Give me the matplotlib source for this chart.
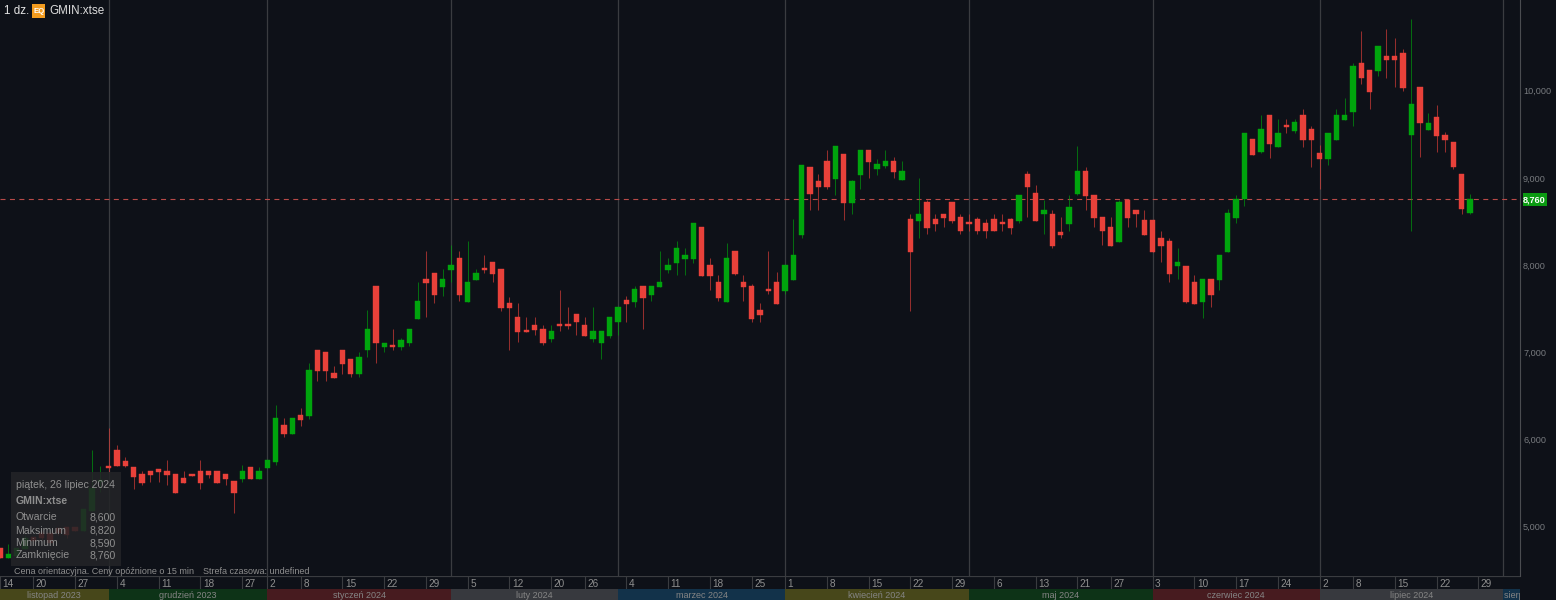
import matplotlib
matplotlib.use("Agg")
import matplotlib.pyplot as plt
import numpy as np

plt.rcParams['font.family'] = ['Liberation Sans', 'DejaVu Sans']

opens = [4750, 4640, 4660, 4740, 4880, 4930, 4930, 4980, 5000, 5000,
         4950, 5180, 5510, 5690, 5880, 5750, 5680, 5600, 5640, 5650,
         5640, 5600, 5560, 5600, 5640, 5640, 5640, 5600, 5520, 5540,
         5680, 5550, 5670, 5740, 6160, 6060, 6280, 6270, 7030, 7000,
         6760, 7030, 6920, 6750, 7030, 7760, 7060, 7080, 7060, 7100,
         7380, 7840, 7910, 7750, 7940, 8080, 7580, 7830, 7950, 8040,
         7950, 7560, 7400, 7240, 7310, 7270, 7150, 7310, 7320, 7440,
         7310, 7150, 7110, 7190, 7350, 7600, 7580, 7760, 7660, 7750,
         7940, 8020, 8070, 8070, 8440, 8000, 7800, 7580, 8160, 7800,
         7760, 7480, 7720, 7800, 7700, 7830, 8350, 9120, 8960, 9190,
         8990, 9270, 8710, 9030, 9320, 9100, 9140, 9190, 8980, 8530,
         8510, 8720, 8530, 8590, 8720, 8550, 8480, 8530, 8480, 8530,
         8480, 8530, 8510, 9040, 8830, 8580, 8590, 8360, 8470, 8820,
         9080, 8800, 8550, 8440, 8260, 8750, 8630, 8520, 8520, 8310,
         8280, 7990, 7990, 7800, 7580, 7840, 7830, 8150, 8540, 8760,
         9440, 9300, 9720, 9350, 9600, 9540, 9720, 9560, 9280, 9220,
         9430, 9660, 9750, 10320, 10240, 10230, 10400, 10400, 10430, 9490,
         10040, 9550, 9700, 9490, 9410, 9040, 8600]
highs = [4750, 4800, 4750, 4900, 4880, 4950, 4930, 4980, 5000, 5000,
         5200, 5880, 5690, 6130, 5930, 5800, 5680, 5640, 5640, 5650,
         5760, 5600, 5640, 5600, 5760, 5640, 5640, 5600, 5520, 5710,
         5680, 5680, 5760, 6400, 6240, 6240, 6360, 6880, 7030, 7000,
         6840, 7030, 6920, 7000, 7480, 7760, 7110, 7270, 7160, 7270,
         7800, 8160, 7910, 7950, 8230, 8160, 8270, 7950, 8120, 8040,
         7950, 7630, 7560, 7400, 7400, 7310, 7310, 7710, 7520, 7440,
         7400, 7520, 7240, 7400, 7520, 7650, 7760, 7760, 7760, 8160,
         8080, 8280, 8200, 8480, 8440, 8080, 7890, 8250, 8160, 7890,
         7780, 7570, 8160, 7920, 8000, 8530, 9150, 9120, 9040, 9320,
         9360, 9270, 8980, 9320, 9320, 9220, 9320, 9240, 9190, 8590,
         9000, 8750, 8590, 8590, 8720, 8590, 8590, 8550, 8530, 8590,
         8590, 8540, 8800, 9080, 8920, 8750, 8630, 8550, 8800, 9360,
         9120, 8800, 8550, 8550, 8750, 8750, 8630, 8630, 8520, 8390,
         8310, 8200, 7990, 7880, 7840, 7840, 8120, 8640, 8800, 9510,
         9440, 9720, 9720, 9680, 9680, 9680, 9790, 9600, 9380, 9510,
         9790, 9920, 10320, 10680, 10240, 10510, 10710, 10600, 10480, 10820,
         10040, 9740, 9840, 9530, 9410, 9040, 8820]
lows = [4640, 4640, 4660, 4740, 4800, 4850, 4800, 4900, 4870, 4950,
        4950, 5180, 5400, 5620, 5690, 5680, 5430, 5480, 5510, 5510,
        5480, 5380, 5500, 5580, 5430, 5560, 5500, 5480, 5150, 5510,
        5540, 5550, 5670, 5710, 6030, 6060, 6150, 6230, 6670, 6670,
        6700, 6750, 6720, 6720, 6950, 6880, 7000, 7030, 7030, 7070,
        7380, 7400, 7560, 7640, 7800, 7590, 7580, 7830, 7910, 7800,
        7470, 7030, 7120, 7230, 7200, 7080, 7120, 7240, 7270, 7200,
        7190, 7120, 6920, 7160, 7200, 7350, 7520, 7270, 7590, 7750,
        7910, 7880, 7890, 8020, 7870, 7710, 7590, 7580, 7880, 7590,
        7350, 7350, 7670, 7550, 7670, 7830, 8310, 8630, 8630, 8870,
        8800, 8520, 8590, 8870, 9000, 9030, 9110, 9000, 8980, 7470,
        8310, 8360, 8390, 8440, 8480, 8360, 8390, 8360, 8310, 8390,
        8390, 8360, 8480, 8550, 8510, 8360, 8200, 8310, 8390, 8800,
        8630, 8440, 8230, 8220, 8260, 8440, 8440, 8350, 8150, 8040,
        7800, 7840, 7560, 7550, 7390, 7520, 7710, 8150, 8480, 8680,
        9260, 9280, 9230, 9350, 9510, 9510, 9350, 9120, 8870, 9150,
        9430, 9660, 9600, 10080, 9790, 10170, 10150, 10040, 10000, 8390,
        9240, 9550, 9300, 9300, 9100, 8590, 8590]
closes = [4640, 4680, 4750, 4870, 4830, 4870, 4810, 4930, 4900, 4950,
          5200, 5440, 5530, 5670, 5700, 5700, 5570, 5500, 5590, 5630,
          5590, 5380, 5500, 5580, 5500, 5590, 5500, 5550, 5380, 5640,
          5540, 5640, 5760, 6240, 6060, 6240, 6220, 6800, 6790, 6790,
          6700, 6870, 6750, 6950, 7270, 7110, 7110, 7060, 7140, 7270,
          7590, 7790, 7660, 7840, 8000, 7660, 7800, 7910, 7940, 7900,
          7510, 7510, 7230, 7230, 7260, 7110, 7240, 7300, 7300, 7350,
          7190, 7240, 7240, 7400, 7520, 7550, 7720, 7620, 7760, 7800,
          8000, 8200, 8120, 8480, 7870, 7870, 7620, 8080, 7900, 7750,
          7380, 7430, 7700, 7550, 8000, 8120, 9150, 8820, 8900, 8900,
          9360, 8710, 8960, 9320, 9180, 9160, 9190, 9070, 9080, 8150,
          8590, 8430, 8470, 8540, 8510, 8390, 8470, 8390, 8390, 8390,
          8470, 8430, 8800, 8900, 8510, 8630, 8220, 8350, 8670, 9080,
          8790, 8540, 8390, 8220, 8720, 8540, 8590, 8350, 8150, 8220,
          7900, 8040, 7580, 7550, 7840, 7660, 8120, 8600, 8760, 9510,
          9260, 9560, 9390, 9510, 9580, 9640, 9430, 9430, 9220, 9510,
          9720, 9720, 10280, 10140, 9990, 10510, 10350, 10350, 10030, 9850,
          9630, 9630, 9480, 9430, 9120, 8640, 8760]

price_ticks = [5000, 6000, 7000, 8000, 9000, 10000]
last_price = 8760
y_top, y_bottom = 11040, 4433

day_labels = ['14', '20', '27', '4', '11', '18', '27', '2', '8', '15', '22', '29', '5', '12', '20', '26', '4', '11', '18', '25',
              '1', '8', '15', '22', '29', '6', '13', '21', '27', '3', '10', '17', '24', '2', '8', '15', '22', '29']
day_index = [0, 4, 9, 14, 19, 24, 29, 32, 36, 41, 46, 51, 56, 61, 66, 70, 75, 80, 85, 90,
             94, 99, 104, 109, 114, 119, 124, 129, 133, 138, 143, 148, 153, 158, 162, 167, 172, 177]

month_labels = ['listopad 2023', 'grudzień 2023', 'styczeń 2024', 'luty 2024', 'marzec 2024',
                'kwiecień 2024', 'maj 2024', 'czerwiec 2024', 'lipiec 2024', 'sierpień 2024']
month_start = [0, 13, 32, 54, 74, 94, 116, 138, 158, 180]
month_end = [13, 32, 54, 74, 94, 116, 138, 158, 180, 182]
month_colors = ['#47471a', '#0d3317', '#471b1f', '#37393e', '#12324a',
                '#47471a', '#0d3317', '#471b1f', '#37393e', '#12324a']

tooltip_names = ['Otwarcie', 'Maksimum', 'Minimum', 'Zamknięcie']
tooltip_values = ['8,600', '8,820', '8,590', '8,760']

W, H = 1556, 600
BG = '#0e1118'
RED = '#e8413a'
GREEN = '#00a40d'
TXT = '#8f8f8f'

opens = np.array(opens)
closes = np.array(closes)
idx = np.arange(len(opens))
up = closes >= opens

fig = plt.figure(figsize=(W / 100, H / 100), dpi=100, facecolor=BG)
xmax = 1520 / 8.352

ax = fig.add_axes([0, 24 / H, 1520 / W, 576 / H], facecolor=BG)
ax.set_xlim(0, xmax)
ax.set_ylim(y_bottom, y_top)
for s in ax.spines.values():
    s.set_visible(False)
ax.spines['right'].set_visible(True)
ax.spines['right'].set_color('#4a4c50')
ax.spines['right'].set_linewidth(0.8)
ax.set_xticks([])
ax.yaxis.tick_right()
ax.set_yticks(price_ticks)
ax.set_yticklabels([f'{p:,}' for p in price_ticks], color='#777a7e', fontsize=6.6)
ax.tick_params(axis='y', length=0, pad=2.2)

# month separators
for m in month_start[1:]:
    ax.axvline(m, color='#3a3c40', lw=0.9, zorder=1)

ax.axhline(last_price, color='#b84a48', lw=0.8, dashes=(4.5, 4), zorder=1.5)

# wicks then bodies
wick_c = [GREEN if u else RED for u in up]
ax.vlines(idx, lows, highs, colors=wick_c, lw=0.75, alpha=0.62, zorder=2)
body_c = wick_c
ax.bar(idx, np.maximum(np.abs(closes - opens), 25), bottom=np.minimum(opens, closes),
       width=0.64, color=body_c, edgecolor=body_c, lw=0.3, zorder=3)

# date row
ax_d = fig.add_axes([0, 11 / H, 1520 / W, 13 / H], facecolor='#0e1014')
ax_d.set_xlim(0, xmax)
ax_d.set_ylim(0, 1)
ax_d.axis('off')
ax_d.axhline(1, color='#3a3c40', lw=1.6)
ax_d.vlines(day_index, 0, 1, color='#3a3c40', lw=0.8)
for i, lab in zip(day_index, day_labels):
    ax_d.text(i + 0.3, 0.42, lab, color=TXT, fontsize=7.2, va='center', ha='left')

# month row
ax_m = fig.add_axes([0, 0, 1520 / W, 11 / H], facecolor=BG)
ax_m.set_xlim(0, xmax)
ax_m.set_ylim(0, 1)
ax_m.axis('off')
for a, b, c, lab in zip(month_start, month_end, month_colors, month_labels):
    ax_m.axvspan(a, b, color=c, lw=0)
    if a == month_start[-1]:
        ax_m.text(a + 0.1, 0.45, lab, color='#858585', fontsize=6.5, va='center', ha='left', clip_on=True)
    else:
        ax_m.text((a + b) / 2, 0.45, lab, color='#858585', fontsize=6.5, va='center', ha='center')


def px_text(x, y, s, **kw):
    kw.setdefault('va', 'center_baseline')
    kw.setdefault('color', TXT)
    return fig.text(x / W, 1 - (y - 1) / H, s, **kw)


def px_rect(x0, y0, x1, y1, **kw):
    r = plt.Rectangle((x0 / W, 1 - y1 / H), (x1 - x0) / W, (y1 - y0) / H, transform=fig.transFigure, **kw)
    fig.add_artist(r)
    return r


# header
px_text(4, 10.5, '1 dz.', color='#e4e4e4', fontsize=8.4)
px_rect(32, 4, 45.5, 18, facecolor='#f39c1f', edgecolor='none')
px_text(38.8, 11.5, 'EQ', color='white', fontsize=5.6, fontweight='bold', ha='center')
px_text(49.5, 10.5, 'GMIN:xtse', color='#dcdcdc', fontsize=8.4)

# tooltip
px_rect(11, 472, 121, 566, facecolor='#232427', edgecolor='none', alpha=0.87, zorder=5)
px_text(15.5, 485.5, 'piątek, 26 lipiec 2024', fontsize=7.6, zorder=6)
px_text(15.5, 501.5, 'GMIN:xtse', fontsize=7.6, fontweight='bold', zorder=6)
for k, (n, v) in enumerate(zip(tooltip_names, tooltip_values)):
    yy = [517.5, 530.5, 543, 555.5][k]
    px_text(15.5, yy, n, fontsize=7.6, zorder=6)
    px_text(116, yy, v, fontsize=7.6, ha='right', zorder=6)

px_text(13.5, 571, 'Cena orientacyjna. Ceny opóźnione o 15 min', fontsize=6.45, zorder=6)
px_text(203, 571, 'Strefa czasowa: undefined', fontsize=6.45, zorder=6)

# last price flag
px_rect(1522.5, 193, 1547, 206, facecolor='#0b9a12', edgecolor='none')
px_text(1534.5, 199.6, f'{last_price:,}', color='white', fontsize=6.6, fontweight='bold', ha='center')

fig.savefig('out.png', dpi=100, facecolor=BG)
